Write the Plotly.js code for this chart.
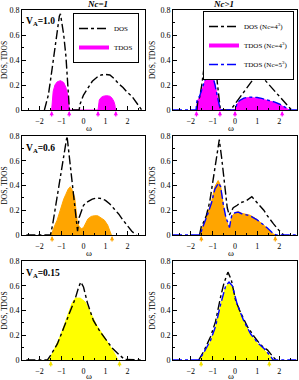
<!DOCTYPE html>
<html><head><meta charset="utf-8">
<script src="https://cdn.plot.ly/plotly-3.0.1.min.js"></script>
<style>html,body{margin:0;padding:0;background:#fff}#c{width:299px;height:380px}</style>
</head><body><div id="c"></div>
<script>
// ---------- data ----------
// Panel 1: V_A = 1.0, Nc = 1
const p1DosX = [-1.78,-1.7,-1.6,-1.5,-1.4,-1.3,-1.2,-1.1,-1.05,-1.0,-0.9,-0.8,-0.72,-0.66,-0.64,-0.2,-0.15,0,0.2,0.4,0.6,0.8,1.0,1.2,1.4,1.6,1.8,2.0,2.2,2.4,2.55,2.65];
const p1DosY = [0,0.05,0.12,0.24,0.37,0.5,0.63,0.75,0.77,0.72,0.6,0.43,0.22,0.05,0,0,0.05,0.12,0.18,0.23,0.26,0.28,0.285,0.28,0.25,0.21,0.18,0.14,0.11,0.06,0.02,0];
const p1TdosX = [-1.45,-1.43,-1.38,-1.3,-1.2,-1.05,-0.9,-0.8,-0.72,-0.67,-0.65,0.66,0.68,0.72,0.8,0.9,1.05,1.2,1.3,1.38,1.43,1.46];
const p1TdosY = [0,0.08,0.15,0.2,0.225,0.235,0.22,0.18,0.12,0.05,0,0,0.05,0.08,0.1,0.11,0.115,0.11,0.095,0.07,0.04,0];
const p1Edges = [-1.45,-0.65,0.66,1.47];

// Panel 2: V_A = 1.0, Nc > 1
const p2DosX = [-1.72,-1.68,-1.6,-1.5,-1.4,-1.3,-1.2,-1.12,-1.08,-1.0,-0.9,-0.8,-0.72,-0.66,-0.2,0,0.2,0.4,0.6,0.8,1.05,1.2,1.4,1.6,1.8,2.0,2.2,2.4,2.55];
const p2DosY = [0,0.07,0.1,0.2,0.34,0.5,0.65,0.75,0.78,0.65,0.44,0.22,0.08,0,0,0.05,0.1,0.14,0.19,0.24,0.3,0.27,0.23,0.19,0.155,0.115,0.075,0.035,0];
const p2T4X = [-1.75,-1.72,-1.68,-1.6,-1.5,-1.4,-1.3,-1.2,-1.15,-1.0,-0.9,-0.8,-0.72,-0.66,0,0.05,0.1,0.2,0.4,0.6,0.8,1.0,1.2,1.4,1.6,1.8,2.0,2.2,2.35,2.45];
const p2T4Y = [0,0.06,0.08,0.1,0.15,0.21,0.26,0.28,0.285,0.26,0.2,0.11,0.04,0,0,0.03,0.05,0.07,0.09,0.1,0.1,0.095,0.088,0.08,0.07,0.06,0.045,0.025,0.01,0];
const p2T5X = [-2.8,-1.76,-1.72,-1.68,-1.6,-1.5,-1.4,-1.3,-1.2,-1.15,-1.0,-0.9,-0.8,-0.72,-0.66,0,0.05,0.1,0.2,0.4,0.6,0.8,1.0,1.2,1.4,1.6,1.8,2.0,2.2,2.35,2.48,2.8];
const p2T5Y = [0,0,0.07,0.09,0.11,0.16,0.22,0.27,0.29,0.295,0.265,0.2,0.11,0.04,0,0,0.035,0.055,0.075,0.095,0.103,0.103,0.1,0.093,0.085,0.075,0.063,0.048,0.028,0.012,0,0];
const p2Edges = [-1.74,-0.68,0,2.13];

// Panel 3: V_A = 0.6, Nc = 1
const p3DosX = [-2.6,-1.5,-1.4,-1.3,-1.2,-1.1,-1.0,-0.9,-0.8,-0.75,-0.7,-0.6,-0.5,-0.4,-0.3,-0.27,-0.2,-0.1,0,0.2,0.4,0.6,0.8,1.0,1.2,1.4,1.6,1.8,2.0,2.2,2.4];
const p3DosY = [0,0,0.09,0.2,0.32,0.44,0.55,0.66,0.76,0.8,0.72,0.56,0.4,0.24,0.08,0.03,0.14,0.2,0.24,0.27,0.29,0.3,0.295,0.28,0.25,0.21,0.17,0.12,0.07,0.03,0];
const p3TdosX = [-1.47,-1.4,-1.3,-1.2,-1.1,-1.0,-0.9,-0.8,-0.7,-0.6,-0.5,-0.4,-0.33,-0.28,-0.2,-0.1,0,0.1,0.2,0.35,0.5,0.65,0.8,0.95,1.1,1.2,1.27];
const p3TdosY = [0,0.04,0.08,0.12,0.18,0.24,0.29,0.33,0.37,0.39,0.36,0.3,0.18,0.1,0.07,0.05,0.06,0.1,0.13,0.15,0.156,0.155,0.14,0.12,0.08,0.04,0];
const p3Edges = [-1.43,1.3];

// Panel 4: V_A = 0.6, Nc > 1
const p4DosX = [-1.6,-1.52,-1.4,-1.29,-1.14,-0.98,-0.83,-0.71,-0.6,-0.45,-0.35,-0.26,-0.15,-0.08,0.1,0.23,0.4,0.53,0.76,0.95,1.14,1.3,1.44,1.6,1.74,1.97,2.2];
const p4DosY = [0,0.07,0.11,0.16,0.27,0.46,0.65,0.77,0.62,0.35,0.22,0.16,0.2,0.22,0.24,0.26,0.27,0.28,0.31,0.27,0.23,0.2,0.16,0.12,0.09,0.04,0];
const p4T4X = [-1.56,-1.44,-1.3,-1.21,-1.06,-0.91,-0.76,-0.65,-0.53,-0.41,-0.3,-0.26,-0.2,-0.15,0,0.15,0.3,0.68,0.98,1.15,1.29,1.45,1.59,1.72,1.82];
const p4T4Y = [0,0.08,0.14,0.19,0.27,0.39,0.44,0.4,0.24,0.13,0.08,0.05,0.1,0.15,0.18,0.19,0.175,0.16,0.127,0.105,0.08,0.055,0.03,0.01,0];
const p4T5X = [-2.8,-1.58,-1.44,-1.3,-1.21,-1.06,-0.91,-0.74,-0.65,-0.53,-0.41,-0.3,-0.25,-0.2,-0.15,0,0.15,0.3,0.68,0.98,1.15,1.29,1.45,1.59,1.72,1.86,2.8];
const p4T5Y = [0,0,0.07,0.13,0.18,0.26,0.37,0.42,0.39,0.25,0.14,0.09,0.06,0.11,0.155,0.18,0.185,0.172,0.155,0.125,0.105,0.082,0.058,0.033,0.012,0,0];
const p4Edges = [-1.52,1.82];

// Panel 5: V_A = 0.15, Nc = 1
const p5DosX = [-2.6,-1.7,-1.64,-1.49,-1.19,-0.9,-0.6,-0.37,-0.22,-0.12,0,0.18,0.45,0.75,1.04,1.34,1.64,1.87,2.6];
const p5DosY = [0,0,0,0.04,0.13,0.26,0.39,0.5,0.59,0.63,0.59,0.46,0.32,0.23,0.16,0.09,0.04,0.005,0];
const p5TdosX = [-1.57,-1.34,-1.04,-0.75,-0.52,-0.37,-0.15,0.07,0.3,0.6,0.9,1.19,1.42,1.57];
const p5TdosY = [0,0.08,0.2,0.34,0.46,0.5,0.5,0.47,0.39,0.28,0.2,0.12,0.05,0];
const p5Edges = [-1.49,1.64];

// Panel 6: V_A = 0.15, Nc > 1
const p6DosX = [-1.64,-1.41,-1.1,-0.88,-0.65,-0.5,-0.32,-0.17,0.03,0.26,0.56,0.86,1.17,1.47,1.7,1.85];
const p6DosY = [0,0.07,0.19,0.31,0.51,0.62,0.71,0.65,0.48,0.38,0.27,0.19,0.12,0.08,0.03,0];
const p6T4X = [-1.59,-1.41,-1.1,-0.88,-0.65,-0.42,-0.27,-0.12,0.1,0.41,0.71,1.02,1.32,1.59,1.7];
const p6T4Y = [0,0.05,0.15,0.26,0.44,0.59,0.62,0.59,0.44,0.3,0.2,0.13,0.08,0.03,0];
const p6T5X = [-2.8,-1.62,-1.41,-1.1,-0.88,-0.65,-0.42,-0.27,-0.12,0.1,0.41,0.71,1.02,1.32,1.59,1.72,2.8];
const p6T5Y = [0,0,0.06,0.16,0.27,0.45,0.6,0.63,0.6,0.45,0.31,0.21,0.14,0.09,0.035,0,0];
const p6Edges = [-1.53,1.55];

// ---------- styles ----------
const SERIF = 'Liberation Serif, Times New Roman, serif';
const MAG = '#ff00ff', ORA = '#ffa500', YEL = '#ffff00', BLU = '#0000ff';
const YELARROW = '#f2e200';

function dos(x, y, n, opts) {
  return Object.assign({x, y, xaxis: 'x' + n, yaxis: 'y' + n, mode: 'lines', showlegend: false,
    line: {color: 'black', width: 1.4, dash: 'dashdot'}}, opts || {});
}
function tdos(x, y, n, col, opts) {
  return Object.assign({x, y, xaxis: 'x' + n, yaxis: 'y' + n, mode: 'lines', fill: 'tozeroy',
    fillcolor: col, line: {color: col, width: 1}, showlegend: false}, opts || {});
}
function tdos5(x, y, n, opts) {
  return Object.assign({x, y, xaxis: 'x' + n, yaxis: 'y' + n, mode: 'lines', showlegend: false,
    line: {color: BLU, width: 1.4, dash: 'dashdot'}}, opts || {});
}
// legend-only key (no data points, draws nothing on the plot)
function key(name, n, col, leg, rank) {
  return {x: [null], y: [null], xaxis: 'x' + n, yaxis: 'y' + n, mode: 'lines', name,
    line: {color: col, width: 4}, showlegend: true, legend: leg, legendrank: rank};
}

const data = [
  tdos(p1TdosX, p1TdosY, '', MAG),
  dos(p1DosX, p1DosY, '', {name: 'DOS', showlegend: true, legend: 'legend', legendrank: 1}),
  key('TDOS', '', MAG, 'legend', 2),
  tdos(p2T4X, p2T4Y, 2, MAG),
  dos(p2DosX, p2DosY, 2, {name: 'DOS (Nc=4<sup>3</sup>)', showlegend: true, legend: 'legend2', legendrank: 1}),
  key('TDOS (Nc=4<sup>3</sup>)', 2, MAG, 'legend2', 2),
  tdos5(p2T5X, p2T5Y, 2, {name: 'TDOS (Nc=5<sup>3</sup>)', showlegend: true, legend: 'legend2', legendrank: 3}),
  tdos(p3TdosX, p3TdosY, 3, ORA),
  dos(p3DosX, p3DosY, 3),
  tdos(p4T4X, p4T4Y, 4, ORA),
  dos(p4DosX, p4DosY, 4),
  tdos5(p4T5X, p4T5Y, 4),
  tdos(p5TdosX, p5TdosY, 5, YEL),
  dos(p5DosX, p5DosY, 5),
  tdos(p6T4X, p6T4Y, 6, YEL),
  dos(p6DosX, p6DosY, 6),
  tdos5(p6T5X, p6T5Y, 6)
];

const W = 299, H = 380;
const colX = [[22 / W, 145 / W], [173 / W, 297 / W]];
const rowY = [[1 - 110 / H, 1 - 10 / H], [1 - 235 / H, 1 - 136 / H], [1 - 360 / H, 1 - 261 / H]];

function xax(dom, anchor) {
  return {domain: dom, anchor, range: [-2.8, 2.8], dtick: 1, tick0: 0,
    showline: true, mirror: true, linecolor: 'black', linewidth: 1,
    ticks: 'inside', ticklen: 4, tickcolor: 'black', showgrid: false, zeroline: false,
    ticklabelstandoff: 3,
    tickfont: {size: 8, family: SERIF, color: 'black'},
    minor: {ticks: 'inside', ticklen: 2, dtick: 0.5, tick0: 0, tickcolor: 'black', showgrid: false}};
}
function yax(dom, anchor) {
  return {domain: dom, anchor, range: [0, 0.8], dtick: 0.2, tick0: 0,
    showline: true, mirror: true, linecolor: 'black', linewidth: 1,
    ticks: 'inside', ticklen: 4, tickcolor: 'black', showgrid: false, zeroline: false,
    tickfont: {size: 8, family: SERIF, color: 'black'},
    minor: {ticks: 'inside', ticklen: 2, dtick: 0.1, tick0: 0, tickcolor: 'black', showgrid: false},
    title: {text: 'DOS, TDOS', font: {size: 7.5, family: SERIF, color: 'black'}, standoff: 3}};
}

const legCommon = {xanchor: 'right', yanchor: 'top', bgcolor: 'white', bordercolor: 'black', borderwidth: 1,
  font: {size: 7, family: SERIF, color: 'black'}, itemwidth: 30, tracegroupgap: 0, traceorder: 'normal'};

const layout = {
  width: W, height: H, margin: {l: 0, r: 0, t: 0, b: 0},
  paper_bgcolor: 'white', plot_bgcolor: 'white',
  font: {family: SERIF, color: 'black'},
  xaxis: xax(colX[0], 'y'), yaxis: yax(rowY[0], 'x'),
  xaxis2: xax(colX[1], 'y2'), yaxis2: yax(rowY[0], 'x2'),
  xaxis3: xax(colX[0], 'y3'), yaxis3: yax(rowY[1], 'x3'),
  xaxis4: xax(colX[1], 'y4'), yaxis4: yax(rowY[1], 'x4'),
  xaxis5: xax(colX[0], 'y5'), yaxis5: yax(rowY[2], 'x5'),
  xaxis6: xax(colX[1], 'y6'), yaxis6: yax(rowY[2], 'x6'),
  legend: Object.assign({x: 139 / W, y: 1 - 13 / H}, legCommon),
  legend2: Object.assign({x: 294 / W, y: 1 - 11 / H}, legCommon),
  annotations: [],
  showlegend: true
};

const ann = layout.annotations;
ann.push({text: '<b><i>Nc=1</i></b>', xref: 'paper', yref: 'paper', x: 85 / W, y: 1 - 4 / H, showarrow: false, font: {size: 9, family: SERIF}, yanchor: 'middle'});
ann.push({text: '<b><i>Nc&gt;1</i></b>', xref: 'paper', yref: 'paper', x: 236 / W, y: 1 - 4 / H, showarrow: false, font: {size: 9, family: SERIF}, yanchor: 'middle'});
const vaLabels = [['V<sub>A</sub>=1.0', 14], ['V<sub>A</sub>=0.6', 141], ['V<sub>A</sub>=0.15', 266]];
vaLabels.forEach(([t, top]) => ann.push({text: '<b>' + t + '</b>', xref: 'paper', yref: 'paper', x: 24 / W, y: 1 - top / H,
  xanchor: 'left', yanchor: 'top', showarrow: false, font: {size: 9.5, family: SERIF}}));
// ω axis labels under each panel
[128, 253, 376].forEach(cy => [83.5 / W, 236 / W].forEach(cx => ann.push({text: 'ω', xref: 'paper', yref: 'paper',
  x: cx, y: 1 - cy / H, yanchor: 'middle', showarrow: false, font: {size: 9, family: SERIF}})));

function edgeArrows(edges, n, col) {
  edges.forEach(e => ann.push({x: e, y: 0, xref: 'x' + n, yref: 'y' + n, text: '', showarrow: true,
    ax: 0, ay: 8, arrowhead: 2, arrowsize: 0.7, arrowwidth: 1.2, arrowcolor: col, standoff: 1}));
}
edgeArrows(p1Edges, '', MAG);
edgeArrows(p2Edges, 2, MAG);
edgeArrows(p3Edges, 3, ORA);
edgeArrows(p4Edges, 4, ORA);
edgeArrows(p5Edges, 5, YELARROW);
edgeArrows(p6Edges, 6, YELARROW);

Plotly.newPlot('c', data, layout, {staticPlot: true, displayModeBar: false});
</script></body></html>
